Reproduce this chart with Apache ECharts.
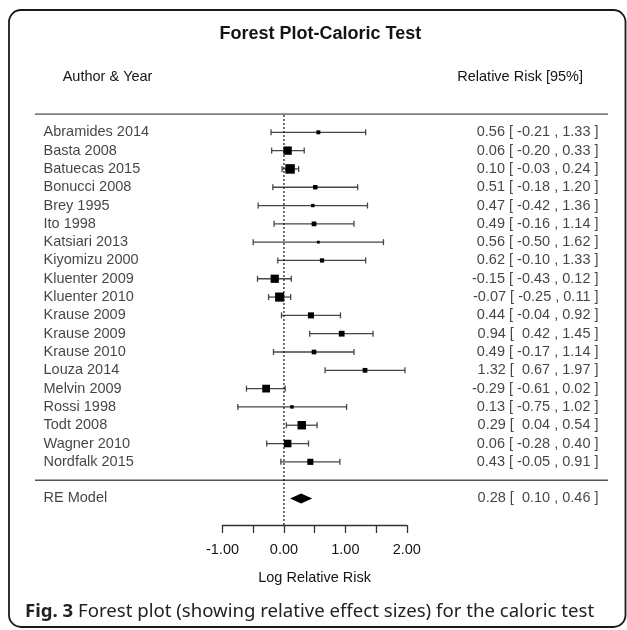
<!DOCTYPE html>
<html>
<head>
<meta charset="utf-8">
<script src="https://cdn.jsdelivr.net/npm/echarts@6/dist/echarts.min.js"></script>
<style>
html,body{margin:0;padding:0;background:#fff;}
#chart{width:627px;height:630px;}
</style>
</head>
<body>
<div id="chart"></div>
<script>
// ---- data ----
const studies = ['Abramides 2014','Basta 2008','Batuecas 2015','Bonucci 2008','Brey 1995','Ito 1998','Katsiari 2013','Kiyomizu 2000','Kluenter 2009','Kluenter 2010','Krause 2009','Krause 2009','Krause 2010','Louza 2014','Melvin 2009','Rossi 1998','Todt 2008','Wagner 2010','Nordfalk 2015'];
const estimate = [0.56,0.06,0.10,0.51,0.47,0.49,0.56,0.62,-0.15,-0.07,0.44,0.94,0.49,1.32,-0.29,0.13,0.29,0.06,0.43];
const lower    = [-0.21,-0.20,-0.03,-0.18,-0.42,-0.16,-0.50,-0.10,-0.43,-0.25,-0.04,0.42,-0.17,0.67,-0.61,-0.75,0.04,-0.28,-0.05];
const upper    = [1.33,0.33,0.24,1.20,1.36,1.14,1.62,1.33,0.12,0.11,0.92,1.45,1.14,1.97,0.02,1.02,0.54,0.40,0.91];
const weights  = [3.2,7.7,8.9,3.7,2.6,4.0,2.0,3.5,7.6,8.5,5.4,5.1,3.9,4.0,7.1,2.7,7.8,6.9,5.4];
const summaryLabel = 'RE Model';
const summary = {est:0.28, lb:0.10, ub:0.46};
const axisTicks = [-1.0,-0.5,0.0,0.5,1.0,1.5,2.0];

// ---- layout helpers ----
const k = studies.length;
const ROW_MIN = -2.45, ROW_MAX = k + 1;
const wMin = Math.min(...weights), wMax = Math.max(...weights);
const SZ_MIN = 2.8, SZ_MAX = 9.5;
function sizeOf(w){ return SZ_MIN + (w - wMin) / (wMax - wMin) * (SZ_MAX - SZ_MIN); }
function f2(v){ return v.toFixed(2); }
function annot(e, l, u){ return f2(e) + ' [ ' + (l < 0 ? '' : ' ') + f2(l) + ' , ' + f2(u) + ' ]'; }

const studyData = studies.map((s,i)=>[k - i, estimate[i], lower[i], upper[i], sizeOf(weights[i])]);
const leftLabels = studies.map((s,i)=>({value:[0, k - i], name:s}));
leftLabels.push({value:[0,-1], name:summaryLabel});
const rightLabels = studies.map((s,i)=>({value:[1, k - i], name:annot(estimate[i], lower[i], upper[i])}));
rightLabels.push({value:[1,-1], name:annot(summary.est, summary.lb, summary.ub)});

const FONT = '"Liberation Sans", Arial, Helvetica, sans-serif';
const TXT = '#141414';

const chart = echarts.init(document.getElementById('chart'), null, {renderer:'canvas'});
const option = {
  animation:false,
  backgroundColor:'#fff',
  grid:[
    {left:222.5, right:627-406.8, top:114, height:411},
    {left:35, right:19, top:114, height:411}
  ],
  xAxis:[
    {type:'value', gridIndex:0, min:axisTicks[0], max:axisTicks[axisTicks.length-1], interval:0.5,
     axisLine:{show:true, onZero:false, lineStyle:{color:'#333', width:1.3}},
     axisTick:{show:true, length:8, lineStyle:{color:'#333', width:1.3}},
     axisLabel:{margin:17, fontFamily:FONT, fontSize:14.5, color:TXT,
       formatter:v => (Math.abs(v % 1) < 1e-9 ? f2(v) : '')},
     splitLine:{show:false},
     name:'Log Relative Risk', nameLocation:'middle', nameGap:45,
     nameTextStyle:{fontFamily:FONT, fontSize:14.5, color:TXT}},
    {type:'value', gridIndex:1, min:0, max:1, show:false}
  ],
  yAxis:[
    {type:'value', gridIndex:0, min:ROW_MIN, max:ROW_MAX, show:false},
    {type:'value', gridIndex:1, min:ROW_MIN, max:ROW_MAX, show:false}
  ],
  series:[
    // horizontal rules
    {type:'line', xAxisIndex:1, yAxisIndex:1, data:[[0,k+1],[1,k+1]], symbol:'none', silent:true,
     lineStyle:{color:'#555', width:1.5}},
    {type:'line', xAxisIndex:1, yAxisIndex:1, data:[[0,0],[1,0]], symbol:'none', silent:true,
     lineStyle:{color:'#555', width:1.5}},
    // reference dotted line at 0
    {type:'line', xAxisIndex:0, yAxisIndex:0, data:[[0,ROW_MIN],[0,k+1]], symbol:'none', silent:true,
     lineStyle:{color:'#111', width:1.2, type:[2,2]}},
    // study CIs + squares
    {type:'custom', xAxisIndex:0, yAxisIndex:0, data:studyData, clip:false,
     encode:{x:[1,2,3], y:0},
     renderItem:function(params, api){
       const y = api.coord([0, api.value(0)])[1];
       const xe = api.coord([api.value(1), 0])[0];
       const xl = api.coord([api.value(2), 0])[0];
       const xu = api.coord([api.value(3), 0])[0];
       const s = api.value(4);
       const ls = {stroke:'#464646', lineWidth:1.3};
       return {type:'group', children:[
         {type:'line', shape:{x1:xl,y1:y,x2:xu,y2:y}, style:ls},
         {type:'line', shape:{x1:xl,y1:y-3,x2:xl,y2:y+3}, style:ls},
         {type:'line', shape:{x1:xu,y1:y-3,x2:xu,y2:y+3}, style:ls},
         {type:'rect', shape:{x:xe-s/2,y:y-s/2,width:s,height:s}, style:{fill:'#000'}}
       ]};
     }},
    // summary diamond
    {type:'custom', xAxisIndex:0, yAxisIndex:0, data:[[-1, summary.est, summary.lb, summary.ub]], clip:false,
     encode:{x:[1,2,3], y:0},
     renderItem:function(params, api){
       const y = api.coord([0, api.value(0)])[1];
       const xe = api.coord([api.value(1), 0])[0];
       const xl = api.coord([api.value(2), 0])[0];
       const xu = api.coord([api.value(3), 0])[0];
       return {type:'polygon', shape:{points:[[xl,y],[xe,y-5],[xu,y],[xe,y+5]]}, style:{fill:'#000'}};
     }},
    // left labels
    {type:'scatter', xAxisIndex:1, yAxisIndex:1, data:leftLabels, symbolSize:1, clip:false,
     itemStyle:{color:'transparent'},
     label:{show:true, position:'right', distance:8, formatter:p=>p.name,
       fontFamily:FONT, fontSize:14.5, color:TXT}},
    // right labels
    {type:'scatter', xAxisIndex:1, yAxisIndex:1, data:rightLabels, symbolSize:1, clip:false,
     itemStyle:{color:'transparent'},
     label:{show:true, position:'left', distance:9, formatter:p=>p.name,
       fontFamily:FONT, fontSize:14.5, color:TXT}}
  ],
  graphic:[
    {type:'rect', shape:{x:9, y:10, width:616.5, height:617, r:12}, silent:true,
     style:{fill:'none', stroke:'#1a1a1a', lineWidth:1.8}},
    {type:'text', x:320.3, y:34, silent:true,
     style:{text:'Forest Plot-Caloric Test', font:'bold 18px ' + FONT, fill:TXT, textAlign:'center', textVerticalAlign:'middle'}},
    {type:'text', x:62.7, y:77, silent:true,
     style:{text:'Author & Year', font:'14.5px ' + FONT, fill:TXT, textAlign:'left', textVerticalAlign:'middle'}},
    {type:'text', x:583, y:77, silent:true,
     style:{text:'Relative Risk [95%]', font:'14.5px ' + FONT, fill:TXT, textAlign:'right', textVerticalAlign:'middle'}},
    {type:'text', x:25, y:611.7, silent:true,
     style:{text:'{b|Fig. 3} Forest plot (showing relative effect sizes) for the caloric test',
       fontFamily:'"Noto Sans", "Open Sans", sans-serif', fontSize:18.6, fill:'#222', verticalAlign:'middle', align:'left',
       rich:{b:{fontFamily:'"Noto Sans", "Open Sans", sans-serif', fontSize:18.6, fontWeight:'bold', fill:'#222'}}}}
  ]
};
chart.setOption(option);
</script>
</body>
</html>
